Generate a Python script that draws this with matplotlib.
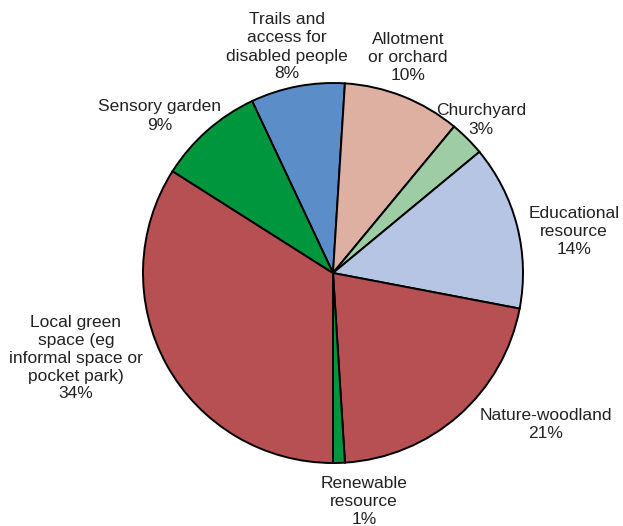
import numpy as np
import matplotlib.pyplot as plt

labels = ["Trails and\naccess for\ndisabled people", "Allotment\nor orchard", "Churchyard",
          "Educational\nresource", "Nature-woodland", "Renewable\nresource",
          "Local green\nspace (eg\ninformal space or\npocket park)", "Sensory garden"]
values = [8, 10, 3, 14, 21, 1, 34, 9]
colors = ["#5b8dc8", "#deb0a2", "#9dcca5", "#b7c5e5", "#b65052", "#00963d", "#b65052", "#00963d"]

# label centres in pixels (x from left, y from top)
label_pos = [(287, 47), (408, 58), (481, 120), (574, 232), (546, 424),
             (364, 502), (76, 358), (160, 116)]

W, H = 623, 526
fig = plt.figure(figsize=(W / 100, H / 100), dpi=100)
ax = fig.add_axes([0, 0, 1, 1])

wedges, texts = ax.pie(values, colors=colors, startangle=115.2, counterclock=False,
                       center=(333, H - 273), radius=190, frame=True,
                       labels=[f"{l}\n{v}%" for l, v in zip(labels, values)],
                       wedgeprops=dict(edgecolor='black', linewidth=1.4),
                       textprops=dict(fontsize=12.5, color='#222222', family='Liberation Sans',
                                      linespacing=1.25))
for t, (x, y) in zip(texts, label_pos):
    t.set_position((x, H - y))
    t.set_ha('center')
    t.set_va('center')
    t.set_multialignment('center')

ax.set_xlim(0, W)
ax.set_ylim(0, H)
ax.set_aspect('equal')
ax.axis('off')

plt.savefig("out.png", dpi=100)
